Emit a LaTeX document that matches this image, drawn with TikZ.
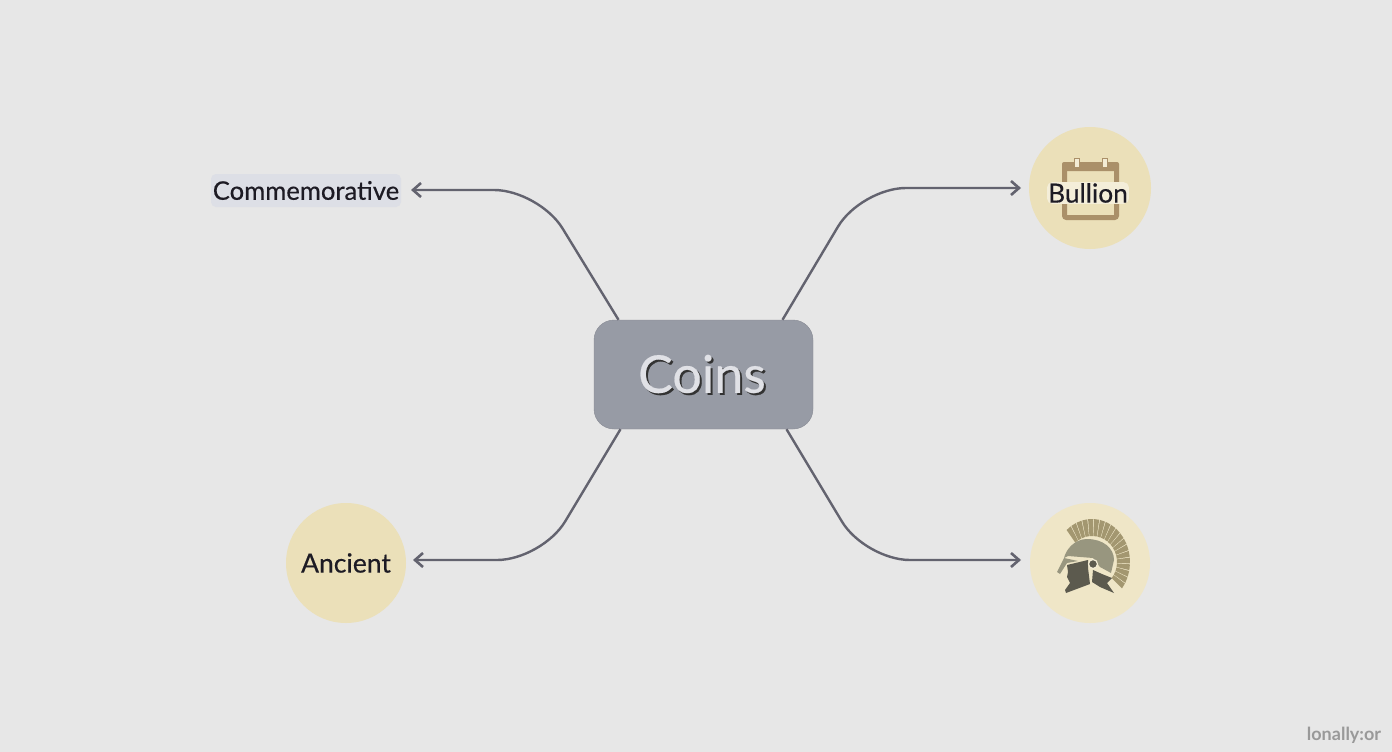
\documentclass[tikz,border=0pt]{standalone}
\usepackage{fontspec}
\setmainfont{Lato}
\usepackage{xcolor}
\usetikzlibrary{arrows.meta, calc}
\definecolor{paper}{HTML}{E7E7E7}
\definecolor{slate}{HTML}{979BA5}
\definecolor{sand}{HTML}{EBE0B9}
\definecolor{wire}{HTML}{63636F}
\definecolor{inky}{HTML}{1D1B24}
\definecolor{tan}{HTML}{AA9069}
\definecolor{plume}{HTML}{A39770}
\definecolor{steel}{HTML}{98967F}
\definecolor{visage}{HTML}{5C5A4E}
\definecolor{haze}{HTML}{DDDFE6}
\definecolor{pale}{HTML}{E0E1E6}
\newcommand{\labelfont}[1]{\fontsize{#1}{32}\selectfont\addfontfeature{FakeBold=0.4}}
\tikzset{
    coinbox/.style={
        rectangle,
        rounded corners=20pt,
        draw=slate!90!black,
        fill=slate,
        minimum width=219pt,
        minimum height=109pt,
    },
    disc/.style={
        circle,
        fill=sand,
        minimum size=120pt,
        inner sep=0pt,
        outer sep=7pt,
        text=inky,
    },
    tagbox/.style={
        rectangle,
        rounded corners=5pt,
        fill=haze,
        minimum width=190pt,
        minimum height=33pt,
        inner sep=0pt,
        outer sep=10pt,
        text=inky,
        font=\labelfont{25.6},
    },
    link/.style={
        ->,
        draw=wire,
        line width=2.4pt,
        rounded corners=45pt,
    },
}
\newcommand{\offsettext}[1]{\rlap{\kern2pt\raisebox{-2pt}{\textcolor{black!80}{#1}}}#1}
\begin{document}
\begin{tikzpicture}[x=1pt,y=-1pt,>={Straight Barb[length=8pt,width=14pt,line width=2.6pt]}]
    \useasboundingbox (0,0) rectangle (1392,752);
    \fill[paper] (0,0) rectangle (1392,752);

    \node [coinbox] (coins) at (703.5,374.5) {};
    \node [tagbox] (comm) at (306,190.5) {Commemorative};
    \node [disc] (ancient) at (346,563) {};
    \node [disc, minimum size=122pt, outer sep=8pt] (bullion) at (1090,188) {};
    \node [disc, outer sep=9pt, fill=sand!80!white] (helmet) at (1090,563) {};

    % bends of the connectors
    \coordinate (bend-nw) at (539,190);
    \coordinate (bend-ne) at (861,188);
    \coordinate (bend-sw) at (542,560);
    \coordinate (bend-se) at (865,560);

    \draw[link] ($(coins.north)+(-85,0)$) -- (bend-nw) -- (comm.east |- bend-nw);
    \draw[link] ($(coins.north)+(79,0)$) -- (bend-ne) -- (bullion.west);
    \draw[link] ($(coins.south)+(-83,0)$) -- (bend-sw) -- (ancient.east |- bend-sw);
    \draw[link] ($(coins.south)+(83,0)$) -- (bend-se) -- (helmet.west |- bend-se);

    % calendar icon
    \draw[tan, line width=5pt, rounded corners=2pt] (1064.5,168) rectangle (1116.5,217.5);
    \fill[tan, rounded corners=2pt] (1062,162) rectangle (1119,171);
    \draw[tan, fill=sand!60!white, line width=.8pt] (1074,158) rectangle (1079,167) (1102,158) rectangle (1107,167);

    % helmet icon
    \coordinate (crest) at (1092,562);
    \foreach \a in {-128,-119,...,36}
        \fill[plume] ($(crest)+(\a-3.9:25 and 26)$) -- ($(crest)+(\a-3.9:38 and 43)$) -- ($(crest)+(\a+3.9:38 and 43)$) -- ($(crest)+(\a+3.9:25 and 26)$) -- cycle;
    \fill[sand!80!white] (crest) ellipse (24 and 25);
    \fill[steel] (1064,558) .. controls (1066,549) and (1075,539) .. (1087,539)
        .. controls (1103,539) and (1114,548) .. (1114,560) -- (1111,573) -- (1100,567) -- (1093,558) -- (1068,556) -- cycle;
    \fill[steel] (1064,558) -- (1078,561) -- (1067,563) -- (1060,574) -- (1057,572) -- cycle;
    \fill[visage] (1067,565) -- (1088,560) -- (1088,568) -- (1090,584) -- (1066,593) -- (1065,590) -- (1070,583) -- (1067,577) -- (1068,572) -- cycle;
    \fill[visage] (1093,570) -- (1102,574) -- (1112,578) -- (1107,583) -- (1114,593) -- (1100,587) -- (1092,582) -- cycle;
    \draw[sand!60!white, fill=visage, line width=1.2pt] (1093,564) circle (4.5);

    % labels
    \node [text=inky, fill=sand!55!white, rounded corners=5pt, inner sep=1pt, font=\labelfont{26.3}] (bullion-text) at (1088,193) {Bullion};
    \node [text=inky, font=\labelfont{26.5}] (ancient-text) at (346,563) {Ancient};
    \node [text=pale, font=\labelfont{52}] (coins-text) at (702,375) {\offsettext{Coins}};
    \node [text=black!40, font=\bfseries\fontsize{18}{20}\selectfont] (mark) at (1344,735) {lonally:or};
\end{tikzpicture}
\end{document}
